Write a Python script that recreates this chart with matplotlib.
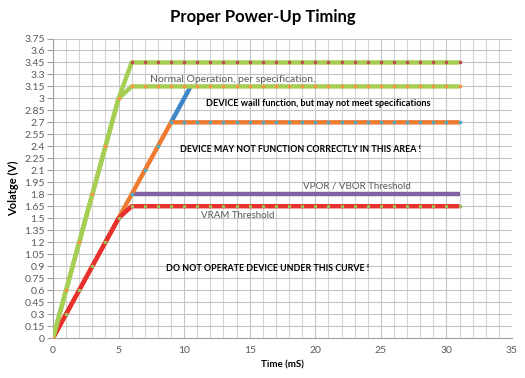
import matplotlib
matplotlib.use("Agg")
import matplotlib.pyplot as plt
import numpy as np

plt.rcParams['font.family'] = ['Lato', 'DejaVu Sans']

# ---- data ----
time_high = [0, 1, 2, 3, 4, 5, 6, 7, 8, 9, 10, 11, 12, 13, 14, 15, 16, 17, 18, 19, 20,
             21, 22, 23, 24, 25, 26, 27, 28, 29, 30, 31]
v_max = [0, 0.6, 1.2, 1.8, 2.4, 3.0] + [3.45] * 26
v_normal = [0, 0.6, 1.2, 1.8, 2.4, 3.0] + [3.15] * 26
v_func = [0, 0.3, 0.6, 0.9, 1.2, 1.5, 1.8, 2.1, 2.4, 2.7] + [2.7] * 22
v_ram = [0, 0.3, 0.6, 0.9, 1.2, 1.5] + [1.65] * 26
time_blue = [9, 10, 10.5]
v_blue = [2.7, 3.0, 3.15]
time_por = [6, 31]
v_por = [1.8, 1.8]

x_ticks = [0, 5, 10, 15, 20, 25, 30, 35]
y_ticks = [round(0.15 * i, 2) for i in range(26)]
y_tick_labels = ["0", "0.15", "0.3", "0.45", "0.6", "0.75", "0.9", "1.05", "1.2", "1.35",
                 "1.5", "1.65", "1.8", "1.95", "2.1", "2.25", "2.4", "2.55", "2.7", "2.85",
                 "3", "3.15", "3.3", "3.45", "3.6", "3.75"]

# colours
c_green = "#A6CE55"
c_orange = "#EE7B30"
c_red = "#E8302E"
c_blue = "#3F86C6"
c_purple = "#8063A1"
c_teal = "#4BACC6"
c_darkred = "#C0504D"
c_lorange = "#F79646"
c_mgreen = "#9BBB59"

fig = plt.figure(figsize=(5.25, 3.78), dpi=100)
ax = fig.add_axes([53 / 525, 1 - 338 / 378, (512 - 53) / 525, (338 - 38.5) / 378])

lw = 3.2
ms = 1.6
ax.plot(time_blue, v_blue, color=c_blue, lw=lw, solid_capstyle='butt', zorder=3)
ax.plot(time_por, v_por, color=c_purple, lw=lw, solid_capstyle='butt', zorder=3)
ax.plot(time_high, v_func, color=c_orange, lw=lw, zorder=4,
        marker='s', ms=ms, mfc=c_teal, mec=c_teal, solid_capstyle='butt')
ax.plot(time_high, v_ram, color=c_red, lw=lw, zorder=5,
        marker='s', ms=ms, mfc=c_mgreen, mec=c_mgreen, solid_capstyle='butt')
ax.plot(time_high, v_max, color=c_green, lw=lw, zorder=6,
        marker='s', ms=ms, mfc=c_darkred, mec=c_darkred, solid_capstyle='butt')
ax.plot(time_high, v_normal, color=c_green, lw=lw, zorder=7,
        marker='s', ms=ms, mfc=c_lorange, mec=c_lorange, solid_capstyle='butt')

ax.set_xlim(0, 35)
ax.set_ylim(0, 3.75)
ax.set_xticks(x_ticks)
ax.set_xticks(np.arange(0, 36, 1), minor=True)
ax.set_yticks(y_ticks)
ax.set_yticklabels(y_tick_labels)
ax.grid(True, which='major', color='#C4C4C4', lw=0.8, zorder=0)
ax.grid(True, which='minor', axis='x', color='#D4D4D4', lw=0.8, zorder=0)
ax.set_axisbelow(True)
for s in ['top', 'right']:
    ax.spines[s].set_visible(False)
for s in ['left', 'bottom']:
    ax.spines[s].set_color('#A0A0A0')
    ax.spines[s].set_linewidth(0.8)
ax.tick_params(axis='y', which='major', length=4, color='#A0A0A0', labelsize=7.5,
               labelcolor='#595959', pad=2)
ax.tick_params(axis='x', which='major', length=0, labelsize=7.5, labelcolor='#595959', pad=6)
ax.tick_params(axis='x', which='minor', length=0)

ax.set_xlabel("Time (mS)", fontsize=7, fontweight='bold', labelpad=4)
ax.set_ylabel("Volatge (V)", fontsize=8, fontweight='bold', labelpad=4)
fig.text(0.5, 1 - 17 / 378, "Proper Power-Up Timing", ha='center', va='center',
         fontsize=12, fontweight='bold')

gray = '#595959'
ax.text(7.4, 3.24, "Normal Operation, per specification.", fontsize=7.5, color=gray,
        va='center', ha='left', zorder=8)
ax.text(11.7, 2.94, "DEVICE waill function, but may not meet specifications", fontsize=6.6,
        fontweight='bold', va='center', ha='left', zorder=8)
ax.text(9.7, 2.36, "DEVICE MAY NOT FUNCTION CORRECTLY IN THIS AREA !", fontsize=6.4,
        fontweight='bold', va='center', ha='left', zorder=8)
ax.text(19.1, 1.9, "VPOR / VBOR Threshold", fontsize=7, color=gray,
        va='center', ha='left', zorder=8)
ax.text(11.3, 1.54, "VRAM Threshold", fontsize=7, color=gray,
        va='center', ha='left', zorder=8)
ax.text(8.6, 0.87, "DO NOT OPERATE DEVICE UNDER THIS CURVE !", fontsize=6.4,
        fontweight='bold', va='center', ha='left', zorder=8)

fig.savefig("out.png", dpi=100)
